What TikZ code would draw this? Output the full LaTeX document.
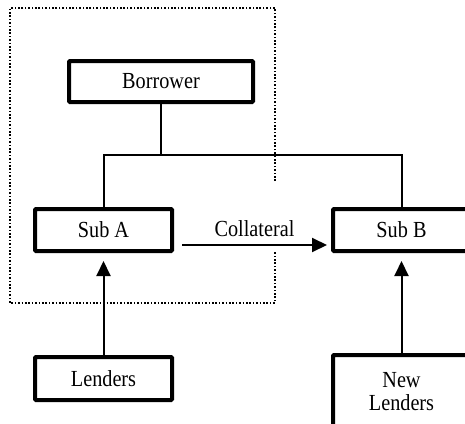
\documentclass[tikz,border=0pt]{standalone}
\usepackage{fontspec}
\setmainfont{Liberation Serif}[FakeStretch=0.88]
\usetikzlibrary{arrows.meta}
\begin{document}
\begin{tikzpicture}[x=1pt,y=-1pt,
  txt/.style={font=\fontsize{23}{23}\selectfont},
  box/.style={draw, line width=4pt, rounded corners=1pt, minimum width=137pt, inner sep=0pt, txt, align=center},
  conn/.style={line width=2pt},
  arr/.style={line width=2pt, -{Triangle[length=15pt,width=14pt]}},
  dotbox/.style={line width=2pt, dash pattern=on 1.6pt off 1.8pt}]
\clip (0,0) rectangle (465,423);
\useasboundingbox (0,0) rectangle (465,423);
% dotted boundary
\draw[dotbox] (275,181) -- (275,8) -- (10,8) -- (10,303) -- (275,303) -- (275,251);
% nodes
\node[box, minimum width=184pt, minimum height=41pt] (borrower) at (161,81.5) {Borrower};
\node[box, minimum height=42pt] (suba) at (103.5,230) {Sub A};
\node[box, minimum height=42pt] (subb) at (401.5,230) {Sub B};
\node[box, minimum height=43pt] (lenders) at (103.5,378.5) {Lenders};
\node[box, minimum height=73pt] (newl) at (401.5,391.5) {New\\Lenders};
% connectors
\coordinate (hub) at (borrower.south |- 0,155);
\draw[conn] (borrower.south) -- (hub);
\draw[conn] (hub) -| (suba.north);
\draw[conn] (hub) -| (subb.north);
\draw[arr] ([xshift=8pt,yshift=-15pt]suba.east) -- node[above=4pt, txt] (coll) {Collateral} ([xshift=-4pt,yshift=-15pt]subb.west);
\draw[arr, shorten >=8pt] (lenders.north) -- (suba.south);
\draw[arr, shorten >=8pt] (newl.north) -- (subb.south);
\end{tikzpicture}
\end{document}
